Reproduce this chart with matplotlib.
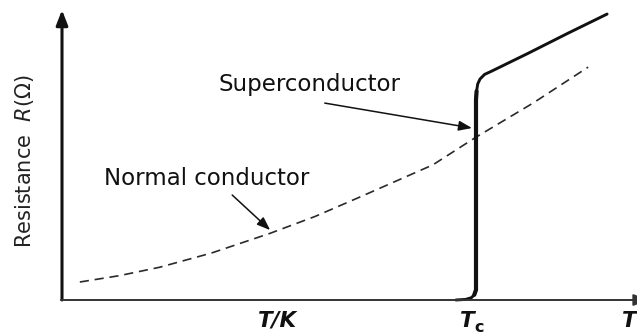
import matplotlib
matplotlib.use("Agg")
import matplotlib.pyplot as plt

# Superconductor: zero resistance below Tc, sharp jump, then metallic rise
sc_T = [6.85, 7.02, 7.12, 7.17, 7.20, 7.20, 7.21, 7.23, 7.27, 7.35, 7.46, 8.10, 8.80, 9.48]
sc_R = [0.00, 0.02, 0.08, 0.18, 0.35, 6.90, 7.20, 7.45, 7.62, 7.78, 7.88, 8.50, 9.20, 9.86]
# Index range of the steep transition (drawn heavier)
jump = slice(3, 7)

# Normal conductor: smooth, gradually steepening rise
nc_T = [0.31, 1.00, 1.70, 2.60, 3.62, 4.40, 5.18, 6.45, 7.18, 8.20, 9.15]
nc_R = [0.62, 0.84, 1.13, 1.62, 2.30, 2.88, 3.55, 4.66, 5.59, 6.80, 8.03]

Tc = 7.20

plt.rcParams["font.family"] = ["DejaVu Sans"]

fig = plt.figure(figsize=(6.37, 3.36), dpi=100)
fig.patch.set_facecolor("white")
ax = fig.add_axes([62 / 637, 36 / 336, 575 / 637, 290 / 336])
ax.set_xlim(0, 10)
ax.set_ylim(0, 10)
ax.axis("off")

ink = "#111111"

# Axes drawn as arrows
ax.annotate("", xy=(0, 1.0), xytext=(0, 0), xycoords="axes fraction",
            arrowprops=dict(arrowstyle="-|>,head_length=0.9,head_width=0.35",
                            lw=2.2, color=ink, shrinkA=0, shrinkB=0),
            annotation_clip=False)
ax.annotate("", xy=(1.02, 0), xytext=(-0.002, 0), xycoords="axes fraction",
            arrowprops=dict(arrowstyle="-|>,head_length=0.9,head_width=0.35",
                            lw=1.4, color="#333333", shrinkA=0, shrinkB=0),
            annotation_clip=False)

# Curves
ax.plot(nc_T, nc_R, color="#2a2a2a", lw=1.2, dashes=(5.5, 3.5), clip_on=False)
ax.plot(sc_T, sc_R, color=ink, lw=2.1, solid_capstyle="round",
        solid_joinstyle="round", clip_on=False)
ax.plot(sc_T[jump], sc_R[jump], color=ink, lw=3.0, solid_capstyle="round",
        clip_on=False)

# Labels with pointers
label_kw = dict(fontsize=16.5, color=ink)
ax.text(4.31, 7.21, "Superconductor", ha="center", va="baseline", **label_kw)
ax.annotate("", xy=(7.13, 5.93), xytext=(4.57, 6.79),
            arrowprops=dict(arrowstyle="-|>,head_length=0.8,head_width=0.3",
                            lw=1.1, color=ink, shrinkA=0, shrinkB=0))
ax.text(2.51, 3.97, "Normal conductor", ha="center", va="baseline", **label_kw)
ax.annotate("", xy=(3.62, 2.41), xytext=(2.96, 3.62),
            arrowprops=dict(arrowstyle="-|>,head_length=0.8,head_width=0.3",
                            lw=1.1, color=ink, shrinkA=0, shrinkB=0))

ax.text(-0.66, 4.79, "Resistance  $R$(\u03a9)", rotation=90, ha="center",
        va="center", fontsize=15, color="#222222", clip_on=False)

# Axis annotations
ax_kw = dict(fontsize=15.5, fontweight="bold", style="italic", color=ink,
             va="baseline", clip_on=False)
ax.text(3.74, -0.93, "T/K", ha="center", **ax_kw)
ax.text(Tc - 0.02, -0.93, "T", ha="right", **ax_kw)
ax.text(Tc - 0.02, -1.1, "c", ha="left", fontsize=11.5, fontweight="bold",
        color=ink, va="baseline", clip_on=False)
ax.text(9.74, -0.93, "T", ha="left", **ax_kw)

fig.savefig("out.png", dpi=100, facecolor="white")
